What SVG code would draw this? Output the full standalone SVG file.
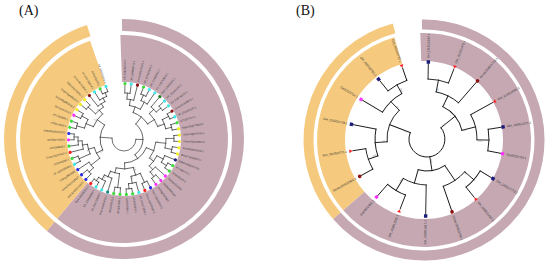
<svg xmlns="http://www.w3.org/2000/svg" width="550" height="266" viewBox="0 0 550 266">
<style>
.tr path,.tr circle{fill:none;stroke:#151515;stroke-width:0.6;stroke-linecap:square}
.trb path,.trb circle{fill:none;stroke:#151515;stroke-width:0.9;stroke-linecap:square}
text{font-family:"Liberation Sans",Arial,sans-serif;fill:#333}
.la{font-size:2.6px;dominant-baseline:central}
.lb{font-size:3.2px;dominant-baseline:central}
.e{text-anchor:end}
.bs{font-size:1.7px;fill:#777}
.bsb{font-size:2.4px;fill:#777}
.ttl{font-family:"Liberation Serif","Times New Roman",serif;font-size:14px;fill:#111}
.ring{fill:none}
.pu{stroke:#c5a8b2}.or{stroke:#f5ca7e}
.cg{fill:#3ddc3d}.cc{fill:#3ee8e8}.cdr{fill:#8b1010}.cdg{fill:#1a7d1a}.cy{fill:#f2ee22}
.cn{fill:#1c1c7a}.cm{fill:#ff33ff}.cb{fill:#2a2ae0}.cr{fill:#ff2020}.ct{fill:#158a8a}
</style>

<text class="ttl" x="19" y="15">(A)</text>
<text class="ttl" x="296" y="15">(B)</text>

<!-- Panel A rings -->
<g id="rings-A" transform="translate(124,139)">
<circle class="ring pu" r="80.5" stroke-width="47" pathLength="360" stroke-dasharray="222 360" transform="rotate(-92)"/>
<circle class="ring or" r="80.5" stroke-width="47" pathLength="360" stroke-dasharray="121 360" transform="rotate(130)"/>
<circle class="ring pu" r="114" stroke-width="12" pathLength="360" stroke-dasharray="221 360" transform="rotate(-91)"/>
<circle class="ring or" r="114" stroke-width="12" pathLength="360" stroke-dasharray="122 360" transform="rotate(130)"/>
</g>

<!-- Panel B rings -->
<g id="rings-B" transform="translate(424,140)">
<circle class="ring pu" r="93" stroke-width="28" pathLength="360" stroke-dasharray="231 360" transform="rotate(-92)"/>
<circle class="ring or" r="93" stroke-width="28" pathLength="360" stroke-dasharray="115 360" transform="rotate(139)"/>
<circle class="ring pu" r="115.5" stroke-width="10" pathLength="360" stroke-dasharray="230 360" transform="rotate(-91)"/>
<circle class="ring or" r="115.5" stroke-width="10" pathLength="360" stroke-dasharray="116 360" transform="rotate(139)"/>
</g>

<!-- Panel A connectors -->
<g id="connectors-A" class="tr" transform="translate(124,139)">
<path d="M0-46V-54" transform="rotate(1)"/>
<path d="M0-46V-54" transform="rotate(7.54)"/>
<path d="M0-40V-54" transform="rotate(14.08)"/>
<path d="M0-48V-54" transform="rotate(20.62)"/>
<path d="M0-48V-54" transform="rotate(27.16)"/>
<path d="M0-42V-54" transform="rotate(33.7)"/>
<path d="M0-42V-54" transform="rotate(40.24)"/>
<path d="M0-48V-54" transform="rotate(46.78)"/>
<path d="M0-48V-54" transform="rotate(53.32)"/>
<path d="M0-50V-54" transform="rotate(59.86)"/>
<path d="M0-50V-54" transform="rotate(66.4)"/>
<path d="M0-49V-54" transform="rotate(72.94)"/>
<path d="M0-49V-54" transform="rotate(79.48)"/>
<path d="M0-50V-54" transform="rotate(86.02)"/>
<path d="M0-50V-54" transform="rotate(92.56)"/>
<path d="M0-49V-54" transform="rotate(99.1)"/>
<path d="M0-49V-54" transform="rotate(105.64)"/>
<path d="M0-44V-54" transform="rotate(112.18)"/>
<path d="M0-50V-54" transform="rotate(118.72)"/>
<path d="M0-50V-54" transform="rotate(125.26)"/>
<path d="M0-42V-54" transform="rotate(131.8)"/>
<path d="M0-48V-54" transform="rotate(138.34)"/>
<path d="M0-48V-54" transform="rotate(144.88)"/>
<path d="M0-48V-54" transform="rotate(151.42)"/>
<path d="M0-48V-54" transform="rotate(157.96)"/>
<path d="M0-45V-54" transform="rotate(164.5)"/>
<path d="M0-50V-54" transform="rotate(171.04)"/>
<path d="M0-50V-54" transform="rotate(177.58)"/>
<path d="M0-49V-54" transform="rotate(184.12)"/>
<path d="M0-49V-54" transform="rotate(190.66)"/>
<path d="M0-41V-54" transform="rotate(197.2)"/>
<path d="M0-46V-54" transform="rotate(203.74)"/>
<path d="M0-50V-54" transform="rotate(210.28)"/>
<path d="M0-50V-54" transform="rotate(216.82)"/>
<path d="M0-48V-54" transform="rotate(223.36)"/>
<path d="M0-48V-54" transform="rotate(229.9)"/>
<path d="M0-42V-54" transform="rotate(236.44)"/>
<path d="M0-49V-54" transform="rotate(242.98)"/>
<path d="M0-49V-54" transform="rotate(249.52)"/>
<path d="M0-42V-54" transform="rotate(256.06)"/>
<path d="M0-46V-54" transform="rotate(262.6)"/>
<path d="M0-50V-54" transform="rotate(269.14)"/>
<path d="M0-50V-54" transform="rotate(275.68)"/>
<path d="M0-49V-54" transform="rotate(282.22)"/>
<path d="M0-49V-54" transform="rotate(288.76)"/>
<path d="M0-48V-54" transform="rotate(295.3)"/>
<path d="M0-48V-54" transform="rotate(301.84)"/>
<path d="M0-48V-54" transform="rotate(308.38)"/>
<path d="M0-48V-54" transform="rotate(314.92)"/>
<path d="M0-42V-54" transform="rotate(321.46)"/>
<path d="M0-46V-54" transform="rotate(328)"/>
<path d="M0-50V-54" transform="rotate(334.54)"/>
<path d="M0-50V-54" transform="rotate(341.08)"/>
<!-- internal radial lines -->
<path d="M0-40V-46" transform="rotate(4.27)"/>
<path d="M0-34V-40" transform="rotate(9.18)"/>
<path d="M0-42V-48" transform="rotate(23.89)"/>
<path d="M0-34V-42" transform="rotate(28.8)"/>
<path d="M0-28V-34" transform="rotate(18.99)"/>
<path d="M0-42V-48" transform="rotate(50.05)"/>
<path d="M0-36V-42" transform="rotate(45.15)"/>
<path d="M0-43V-50" transform="rotate(63.13)"/>
<path d="M0-43V-49" transform="rotate(76.21)"/>
<path d="M0-36V-43" transform="rotate(69.67)"/>
<path d="M0-28V-36" transform="rotate(57.41)"/>
<path d="M0-19V-28" transform="rotate(38.2)"/>
<path d="M0-42V-50" transform="rotate(89.29)"/>
<path d="M0-42V-49" transform="rotate(102.37)"/>
<path d="M0-32V-42" transform="rotate(95.83)"/>
<path d="M0-44V-50" transform="rotate(121.99)"/>
<path d="M0-37V-44" transform="rotate(117.09)"/>
<path d="M0-42V-48" transform="rotate(141.61)"/>
<path d="M0-37V-42" transform="rotate(136.71)"/>
<path d="M0-32V-37" transform="rotate(126.9)"/>
<path d="M0-24V-32" transform="rotate(111.37)"/>
<path d="M0-38V-48" transform="rotate(154.69)"/>
<path d="M0-45V-50" transform="rotate(174.31)"/>
<path d="M0-38V-45" transform="rotate(169.41)"/>
<path d="M0-30V-38" transform="rotate(162.05)"/>
<path d="M0-35V-49" transform="rotate(187.39)"/>
<path d="M0-46V-50" transform="rotate(213.55)"/>
<path d="M0-41V-46" transform="rotate(208.65)"/>
<path d="M0-35V-41" transform="rotate(202.93)"/>
<path d="M0-30V-35" transform="rotate(195.16)"/>
<path d="M0-24V-30" transform="rotate(178.61)"/>
<path d="M0-19V-24" transform="rotate(144.99)"/>
<path d="M0-12V-19" transform="rotate(91.6)"/>
<path d="M0-42V-48" transform="rotate(226.63)"/>
<path d="M0-31V-42" transform="rotate(231.54)"/>
<path d="M0-37V-49" transform="rotate(246.25)"/>
<path d="M0-46V-50" transform="rotate(272.41)"/>
<path d="M0-42V-46" transform="rotate(267.51)"/>
<path d="M0-37V-42" transform="rotate(261.79)"/>
<path d="M0-31V-37" transform="rotate(254.02)"/>
<path d="M0-24V-31" transform="rotate(242.78)"/>
<path d="M0-41V-49" transform="rotate(285.49)"/>
<path d="M0-41V-48" transform="rotate(298.57)"/>
<path d="M0-33V-41" transform="rotate(292.03)"/>
<path d="M0-38V-48" transform="rotate(311.65)"/>
<path d="M0-46V-50" transform="rotate(337.81)"/>
<path d="M0-42V-46" transform="rotate(332.91)"/>
<path d="M0-38V-42" transform="rotate(327.19)"/>
<path d="M0-33V-38" transform="rotate(319.42)"/>
<path d="M0-24V-33" transform="rotate(305.73)"/>
<path d="M0-12V-24" transform="rotate(274.26)"/>
<!-- arcs -->
<circle r="46" pathLength="360" stroke-dasharray="6.54 360" transform="rotate(-89)"/>
<circle r="40" pathLength="360" stroke-dasharray="9.81 360" transform="rotate(-85.73)"/>
<circle r="48" pathLength="360" stroke-dasharray="6.54 360" transform="rotate(-69.38)"/>
<circle r="42" pathLength="360" stroke-dasharray="9.81 360" transform="rotate(-66.11)"/>
<circle r="34" pathLength="360" stroke-dasharray="19.62 360" transform="rotate(-80.82)"/>
<circle r="48" pathLength="360" stroke-dasharray="6.54 360" transform="rotate(-43.22)"/>
<circle r="42" pathLength="360" stroke-dasharray="9.81 360" transform="rotate(-49.76)"/>
<circle r="50" pathLength="360" stroke-dasharray="6.54 360" transform="rotate(-30.14)"/>
<circle r="49" pathLength="360" stroke-dasharray="6.54 360" transform="rotate(-17.06)"/>
<circle r="43" pathLength="360" stroke-dasharray="13.08 360" transform="rotate(-26.87)"/>
<circle r="36" pathLength="360" stroke-dasharray="24.52 360" transform="rotate(-44.85)"/>
<circle r="28" pathLength="360" stroke-dasharray="38.42 360" transform="rotate(-71.01)"/>
<circle r="50" pathLength="360" stroke-dasharray="6.54 360" transform="rotate(-3.98)"/>
<circle r="49" pathLength="360" stroke-dasharray="6.54 360" transform="rotate(9.1)"/>
<circle r="42" pathLength="360" stroke-dasharray="13.08 360" transform="rotate(-0.71)"/>
<circle r="50" pathLength="360" stroke-dasharray="6.54 360" transform="rotate(28.72)"/>
<circle r="44" pathLength="360" stroke-dasharray="9.81 360" transform="rotate(22.18)"/>
<circle r="48" pathLength="360" stroke-dasharray="6.54 360" transform="rotate(48.34)"/>
<circle r="42" pathLength="360" stroke-dasharray="9.81 360" transform="rotate(41.8)"/>
<circle r="37" pathLength="360" stroke-dasharray="19.62 360" transform="rotate(27.09)"/>
<circle r="32" pathLength="360" stroke-dasharray="31.07 360" transform="rotate(5.83)"/>
<circle r="48" pathLength="360" stroke-dasharray="6.54 360" transform="rotate(61.42)"/>
<circle r="50" pathLength="360" stroke-dasharray="6.54 360" transform="rotate(81.04)"/>
<circle r="45" pathLength="360" stroke-dasharray="9.81 360" transform="rotate(74.5)"/>
<circle r="38" pathLength="360" stroke-dasharray="14.72 360" transform="rotate(64.69)"/>
<circle r="49" pathLength="360" stroke-dasharray="6.54 360" transform="rotate(94.12)"/>
<circle r="50" pathLength="360" stroke-dasharray="6.54 360" transform="rotate(120.28)"/>
<circle r="46" pathLength="360" stroke-dasharray="9.81 360" transform="rotate(113.74)"/>
<circle r="41" pathLength="360" stroke-dasharray="11.45 360" transform="rotate(107.2)"/>
<circle r="35" pathLength="360" stroke-dasharray="15.54 360" transform="rotate(97.39)"/>
<circle r="30" pathLength="360" stroke-dasharray="33.11 360" transform="rotate(72.05)"/>
<circle r="24" pathLength="360" stroke-dasharray="67.24 360" transform="rotate(21.37)"/>
<circle r="19" pathLength="360" stroke-dasharray="106.79 360" transform="rotate(-51.8)"/>
<circle r="48" pathLength="360" stroke-dasharray="6.54 360" transform="rotate(133.36)"/>
<circle r="42" pathLength="360" stroke-dasharray="9.81 360" transform="rotate(136.63)"/>
<circle r="49" pathLength="360" stroke-dasharray="6.54 360" transform="rotate(152.98)"/>
<circle r="50" pathLength="360" stroke-dasharray="6.54 360" transform="rotate(179.14)"/>
<circle r="46" pathLength="360" stroke-dasharray="9.81 360" transform="rotate(172.6)"/>
<circle r="42" pathLength="360" stroke-dasharray="11.45 360" transform="rotate(166.06)"/>
<circle r="37" pathLength="360" stroke-dasharray="15.54 360" transform="rotate(156.25)"/>
<circle r="31" pathLength="360" stroke-dasharray="22.48 360" transform="rotate(141.54)"/>
<circle r="49" pathLength="360" stroke-dasharray="6.54 360" transform="rotate(192.22)"/>
<circle r="48" pathLength="360" stroke-dasharray="6.54 360" transform="rotate(205.3)"/>
<circle r="41" pathLength="360" stroke-dasharray="13.08 360" transform="rotate(195.49)"/>
<circle r="48" pathLength="360" stroke-dasharray="6.54 360" transform="rotate(218.38)"/>
<circle r="50" pathLength="360" stroke-dasharray="6.54 360" transform="rotate(244.54)"/>
<circle r="46" pathLength="360" stroke-dasharray="9.81 360" transform="rotate(238)"/>
<circle r="42" pathLength="360" stroke-dasharray="11.45 360" transform="rotate(231.46)"/>
<circle r="38" pathLength="360" stroke-dasharray="15.54 360" transform="rotate(221.65)"/>
<circle r="33" pathLength="360" stroke-dasharray="27.39 360" transform="rotate(202.03)"/>
<circle r="24" pathLength="360" stroke-dasharray="62.95 360" transform="rotate(152.78)"/>
<circle r="12" pathLength="360" stroke-dasharray="182.66 360" transform="rotate(1.6)"/>
</g>

<!-- Panel A support values -->
<g id="support-A" transform="translate(124,139)">
<text class="bs" transform="rotate(-84.7)" x="40.5" y="-0.6">100</text>
<text class="bs" transform="rotate(-60.2)" x="42.5" y="-0.6">98</text>
<text class="bs" transform="rotate(-44.8)" x="36.5" y="-0.6">87</text>
<text class="bs" transform="rotate(-20.3)" x="36.5" y="-0.6">100</text>
<text class="bs" transform="rotate(5.8)" x="32.5" y="-0.6">95</text>
<text class="bs" transform="rotate(36.9)" x="32.5" y="-0.6">100</text>
<text class="bs" transform="rotate(51.6)" x="42.5" y="-0.6">76</text>
<text class="bs" transform="rotate(72.1)" x="30.5" y="-0.6">100</text>
<text class="bs" transform="rotate(79.4)" x="38.5" y="-0.6">99</text>
<text class="bs" transform="rotate(112.9)" x="35.5" y="-0.6">84</text>
<text class="bs" transform="rotate(118.6)" x="41.5" y="-0.6">100</text>
<text class="bs" transform="rotate(152.8)" x="24.5" y="-0.6">100</text>
<text class="bs" transform="rotate(164.0)" x="37.5" y="-0.6">91</text>
<text class="bs" transform="rotate(215.7)" x="33.5" y="-0.6">100</text>
<text class="bs" transform="rotate(229.4)" x="38.5" y="-0.6">88</text>
</g>

<!-- Panel A leaves -->
<g id="leaves-A" transform="translate(124,139)">
<g id="a0" transform="rotate(1)"><circle class="cg" cy="-55.5" r="1.6"/><text class="la" transform="rotate(-90)" x="59">XP_016703245.1</text></g>
<g id="a1" transform="rotate(7.54)"><circle class="cc" cy="-55.5" r="1.6"/><text class="la" transform="rotate(-90)" x="59">XP_016666712.1</text></g>
<g id="a2" transform="rotate(14.08)"><circle class="cdr" cy="-55.5" r="1.6"/><text class="la" transform="rotate(-90)" x="59">Gorai.001G0123.1</text></g>
<g id="a3" transform="rotate(20.62)"><circle class="cg" cy="-55.5" r="1.6"/><text class="la" transform="rotate(-90)" x="59">XP_017620254.1</text></g>
<g id="a4" transform="rotate(27.16)"><circle class="cc" cy="-55.5" r="1.6"/><text class="la" transform="rotate(-90)" x="59">XP_016687421.1</text></g>
<g id="a5" transform="rotate(33.7)"><circle class="cc" cy="-55.5" r="1.6"/><text class="la" transform="rotate(-90)" x="59">XP_016705618.1</text></g>
<g id="a6" transform="rotate(40.24)"><circle class="cdg" cy="-55.5" r="1.6"/><text class="la" transform="rotate(-90)" x="59">Potri.008G0934.1</text></g>
<g id="a7" transform="rotate(46.78)"><circle class="cc" cy="-55.5" r="1.6"/><text class="la" transform="rotate(-90)" x="59">XP_012461095.1</text></g>
<g id="a8" transform="rotate(53.32)"><circle class="cc" cy="-55.5" r="1.6"/><text class="la" transform="rotate(-90)" x="59">XP_016741132.1</text></g>
<g id="a9" transform="rotate(59.86)"><circle class="cdr" cy="-55.5" r="1.6"/><text class="la" transform="rotate(-90)" x="59">Gorai.013G0875.1</text></g>
<g id="a10" transform="rotate(66.4)"><circle class="cc" cy="-55.5" r="1.6"/><text class="la" transform="rotate(-90)" x="59">XP_012491247.1</text></g>
<g id="a11" transform="rotate(72.94)"><circle class="cg" cy="-55.5" r="1.6"/><text class="la" transform="rotate(-90)" x="59">AT1G27370.1</text></g>
<g id="a12" transform="rotate(79.48)"><circle class="cy" cy="-55.5" r="1.6"/><text class="la" transform="rotate(-90)" x="59">Solyc02g077920.2</text></g>
<g id="a13" transform="rotate(86.02)"><circle class="cy" cy="-55.5" r="1.6"/><text class="la" transform="rotate(-90)" x="59">Solyc10g078700.1</text></g>
<g id="a14" transform="rotate(92.56)"><circle class="cy" cy="-55.5" r="1.6"/><text class="la" transform="rotate(-90)" x="59">Solyc05g015840.2</text></g>
<g id="a15" transform="rotate(99.1)"><circle class="cy" cy="-55.5" r="1.6"/><text class="la" transform="rotate(-90)" x="59">Solyc05g012040.2</text></g>
<g id="a16" transform="rotate(105.64)"><circle class="cy" cy="-55.5" r="1.6"/><text class="la" transform="rotate(-90)" x="59">Solyc12g038520.1</text></g>
<g id="a17" transform="rotate(112.18)"><circle class="cn" cy="-55.5" r="1.6"/><text class="la" transform="rotate(-90)" x="59">GRMZM2G061734</text></g>
<g id="a18" transform="rotate(118.72)"><circle class="cg" cy="-55.5" r="1.6"/><text class="la" transform="rotate(-90)" x="59">AT1G69170.1</text></g>
<g id="a19" transform="rotate(125.26)"><circle class="cg" cy="-55.5" r="1.6"/><text class="la" transform="rotate(-90)" x="59">AT5G50570.2</text></g>
<g id="a20" transform="rotate(131.8)"><circle class="cm" cy="-55.5" r="1.6"/><text class="la" transform="rotate(-90)" x="59">Os02g0139400</text></g>
<g id="a21" transform="rotate(138.34)"><circle class="cm" cy="-55.5" r="1.6"/><text class="la" transform="rotate(-90)" x="59">Os06g0659100</text></g>
<g id="a22" transform="rotate(144.88)"><circle class="cm" cy="-55.5" r="1.6"/><text class="la" transform="rotate(-90)" x="59">Os08g0509600</text></g>
<g id="a23" transform="rotate(151.42)"><circle class="cb" cy="-55.5" r="1.6"/><text class="la" transform="rotate(-90)" x="59">Potri.015G0640.1</text></g>
<g id="a24" transform="rotate(157.96)"><circle class="cr" cy="-55.5" r="1.6"/><text class="la" transform="rotate(-90)" x="59">Gorai.010G2083.1</text></g>
<g id="a25" transform="rotate(164.5)"><circle class="cc" cy="-55.5" r="1.6"/><text class="la" transform="rotate(-90)" x="59">XP_016672359.1</text></g>
<g id="a26" transform="rotate(171.04)"><circle class="cg" cy="-55.5" r="1.6"/><text class="la" transform="rotate(-90)" x="59">AT2G33810.1</text></g>
<g id="a27" transform="rotate(177.58)"><circle class="cg" cy="-55.5" r="1.6"/><text class="la" transform="rotate(-90)" x="59">AT3G57920.1</text></g>
<g id="a28" transform="rotate(184.12)"><circle class="cg" cy="-55.5" r="1.6"/><text class="la e" transform="rotate(90)" x="-59">AT1G53160.1</text></g>
<g id="a29" transform="rotate(190.66)"><circle class="cg" cy="-55.5" r="1.6"/><text class="la e" transform="rotate(90)" x="-59">AT5G43270.2</text></g>
<g id="a30" transform="rotate(197.2)"><circle class="ct" cy="-55.5" r="1.6"/><text class="la e" transform="rotate(90)" x="-59">Potri.002G0020.1</text></g>
<g id="a31" transform="rotate(203.74)"><circle class="cc" cy="-55.5" r="1.6"/><text class="la e" transform="rotate(90)" x="-59">XP_016713958.1</text></g>
<g id="a32" transform="rotate(210.28)"><circle class="cc" cy="-55.5" r="1.6"/><text class="la e" transform="rotate(90)" x="-59">XP_016699864.1</text></g>
<g id="a33" transform="rotate(216.82)"><circle class="cr" cy="-55.5" r="1.6"/><text class="la e" transform="rotate(90)" x="-59">Gorai.005G0914.1</text></g>
<g id="a34" transform="rotate(223.36)"><circle class="cb" cy="-55.5" r="1.6"/><text class="la e" transform="rotate(90)" x="-59">GRMZM2G156621</text></g>
<g id="a35" transform="rotate(229.9)"><circle class="cb" cy="-55.5" r="1.6"/><text class="la e" transform="rotate(90)" x="-59">GRMZM2G126827</text></g>
<g id="a36" transform="rotate(236.44)"><circle class="cb" cy="-55.5" r="1.6"/><text class="la e" transform="rotate(90)" x="-59">Os01g0922600</text></g>
<g id="a37" transform="rotate(242.98)"><circle class="cc" cy="-55.5" r="1.6"/><text class="la e" transform="rotate(90)" x="-59">XP_016738390.1</text></g>
<g id="a38" transform="rotate(249.52)"><circle class="cg" cy="-55.5" r="1.6"/><text class="la e" transform="rotate(90)" x="-59">AT2G42200.1</text></g>
<g id="a39" transform="rotate(256.06)"><circle class="cr" cy="-55.5" r="1.6"/><text class="la e" transform="rotate(90)" x="-59">Gorai.011G0413.1</text></g>
<g id="a40" transform="rotate(262.6)"><circle class="cg" cy="-55.5" r="1.6"/><text class="la e" transform="rotate(90)" x="-59">AT3G60030.1</text></g>
<g id="a41" transform="rotate(269.14)"><circle class="cm" cy="-55.5" r="1.6"/><text class="la e" transform="rotate(90)" x="-59">Os05g0408200</text></g>
<g id="a42" transform="rotate(275.68)"><circle class="cb" cy="-55.5" r="1.6"/><text class="la e" transform="rotate(90)" x="-59">GRMZM2G097275</text></g>
<g id="a43" transform="rotate(282.22)"><circle class="cg" cy="-55.5" r="1.6"/><text class="la e" transform="rotate(90)" x="-59">AT5G18830.1</text></g>
<g id="a44" transform="rotate(288.76)"><circle class="cg" cy="-55.5" r="1.6"/><text class="la e" transform="rotate(90)" x="-59">AT1G02065.1</text></g>
<g id="a45" transform="rotate(295.3)"><circle class="cm" cy="-55.5" r="1.6"/><text class="la e" transform="rotate(90)" x="-59">Os07g0505200</text></g>
<g id="a46" transform="rotate(301.84)"><circle class="cy" cy="-55.5" r="1.6"/><text class="la e" transform="rotate(90)" x="-59">Solyc08g061910.2</text></g>
<g id="a47" transform="rotate(308.38)"><circle class="cy" cy="-55.5" r="1.6"/><text class="la e" transform="rotate(90)" x="-59">Solyc01g068100.2</text></g>
<g id="a48" transform="rotate(314.92)"><circle class="cy" cy="-55.5" r="1.6"/><text class="la e" transform="rotate(90)" x="-59">Solyc10g009080.2</text></g>
<g id="a49" transform="rotate(321.46)"><circle class="cdr" cy="-55.5" r="1.6"/><text class="la e" transform="rotate(90)" x="-59">Gorai.007G2031.1</text></g>
<g id="a50" transform="rotate(328)"><circle class="cc" cy="-55.5" r="1.6"/><text class="la e" transform="rotate(90)" x="-59">XP_016730814.1</text></g>
<g id="a51" transform="rotate(334.54)"><circle class="cg" cy="-55.5" r="1.6"/><text class="la e" transform="rotate(90)" x="-59">AT3G15270.1</text></g>
<g id="a52" transform="rotate(341.08)"><circle class="cc" cy="-55.5" r="1.6"/><text class="la e" transform="rotate(90)" x="-59">XP_016742021.1</text></g>
</g>

<!-- Panel B connectors -->
<g id="connectors-B" class="trb" transform="translate(427,139)">
<path d="M0-60V-75" transform="rotate(1)"/>
<path d="M0-60V-75" transform="rotate(21)"/>
<path d="M0-48V-75" transform="rotate(41)"/>
<path d="M0-50V-75" transform="rotate(61)"/>
<path d="M0-62V-75" transform="rotate(81)"/>
<path d="M0-62V-75" transform="rotate(101)"/>
<path d="M0-62V-75" transform="rotate(121)"/>
<path d="M0-62V-75" transform="rotate(141)"/>
<path d="M0-50V-75" transform="rotate(161)"/>
<path d="M0-46V-75" transform="rotate(181)"/>
<path d="M0-60V-75" transform="rotate(201)"/>
<path d="M0-60V-75" transform="rotate(221)"/>
<path d="M0-62V-75" transform="rotate(241)"/>
<path d="M0-62V-75" transform="rotate(261)"/>
<path d="M0-52V-75" transform="rotate(281)"/>
<path d="M0-52V-75" transform="rotate(301)"/>
<path d="M0-62V-75" transform="rotate(321)"/>
<path d="M0-62V-75" transform="rotate(341)"/>
<path d="M0-48V-60" transform="rotate(11)"/>
<path d="M0-36V-48" transform="rotate(26)"/>
<path d="M0-50V-62" transform="rotate(91)"/>
<path d="M0-36V-50" transform="rotate(76)"/>
<path d="M0-18V-36" transform="rotate(51)"/>
<path d="M0-50V-62" transform="rotate(131)"/>
<path d="M0-32V-50" transform="rotate(146)"/>
<path d="M0-46V-60" transform="rotate(211)"/>
<path d="M0-32V-46" transform="rotate(196)"/>
<path d="M0-18V-32" transform="rotate(171)"/>
<path d="M0-52V-62" transform="rotate(251)"/>
<path d="M0-40V-52" transform="rotate(266)"/>
<path d="M0-52V-62" transform="rotate(331)"/>
<path d="M0-40V-52" transform="rotate(316)"/>
<path d="M0-18V-40" transform="rotate(291)"/>
<circle r="60" pathLength="360" stroke-dasharray="20 360" transform="rotate(-89)"/>
<circle r="48" pathLength="360" stroke-dasharray="30 360" transform="rotate(-79)"/>
<circle r="62" pathLength="360" stroke-dasharray="20 360" transform="rotate(-9)"/>
<circle r="50" pathLength="360" stroke-dasharray="30 360" transform="rotate(-29)"/>
<circle r="36" pathLength="360" stroke-dasharray="50 360" transform="rotate(-64)"/>
<circle r="62" pathLength="360" stroke-dasharray="20 360" transform="rotate(31)"/>
<circle r="50" pathLength="360" stroke-dasharray="30 360" transform="rotate(41)"/>
<circle r="60" pathLength="360" stroke-dasharray="20 360" transform="rotate(111)"/>
<circle r="46" pathLength="360" stroke-dasharray="30 360" transform="rotate(91)"/>
<circle r="32" pathLength="360" stroke-dasharray="50 360" transform="rotate(56)"/>
<circle r="62" pathLength="360" stroke-dasharray="20 360" transform="rotate(151)"/>
<circle r="52" pathLength="360" stroke-dasharray="30 360" transform="rotate(161)"/>
<circle r="62" pathLength="360" stroke-dasharray="20 360" transform="rotate(231)"/>
<circle r="52" pathLength="360" stroke-dasharray="30 360" transform="rotate(211)"/>
<circle r="40" pathLength="360" stroke-dasharray="50 360" transform="rotate(176)"/>
<circle r="18" pathLength="360" stroke-dasharray="240 360" transform="rotate(-39)"/>
</g>

<!-- Panel B support values -->
<g id="support-B" transform="translate(427,139)">
<text class="bsb" transform="rotate(-76)" x="49" y="-0.8">99</text>
<text class="bsb" transform="rotate(-61)" x="37" y="-0.8">78</text>
<text class="bsb" transform="rotate(4)" x="51" y="-0.8">100</text>
<text class="bsb" transform="rotate(-11)" x="37" y="-0.8">64</text>
<text class="bsb" transform="rotate(-36)" x="20" y="-0.8">100</text>
<text class="bsb" transform="rotate(44)" x="51" y="-0.8">97</text>
<text class="bsb" transform="rotate(59)" x="34" y="-0.8">85</text>
<text class="bsb" transform="rotate(124)" x="47" y="-0.8">100</text>
<text class="bsb" transform="rotate(109)" x="34" y="-0.8">71</text>
<text class="bsb" transform="rotate(84)" x="20" y="-0.8">100</text>
<text class="bsb" transform="rotate(164)" x="53" y="-0.8">100</text>
<text class="bsb" transform="rotate(179)" x="42" y="-0.8">88</text>
<text class="bsb" transform="rotate(244)" x="53" y="-0.8">100</text>
<text class="bsb" transform="rotate(229)" x="42" y="-0.8">92</text>
<text class="bsb" transform="rotate(204)" x="21" y="-0.8">100</text>
</g>

<!-- Panel B leaves -->
<g id="leaves-B" transform="translate(427,139)">
<g id="b1" transform="rotate(1)"><rect class="cn" x="-1.7" y="-78.7" width="3.4" height="3.4"/><text class="lb" transform="rotate(-90)" x="81">GH_D12G1597.1</text></g>
<g id="b2" transform="rotate(21)"><path class="cr" d="M-1.9-78.6H1.9L0-75.4Z"/><text class="lb" transform="rotate(-90)" x="81">GH_A12G1475.1</text></g>
<g id="b3" transform="rotate(41)"><circle class="cdr" cy="-77" r="1.8"/><text class="lb" transform="rotate(-90)" x="81">Gorai.008G1716.1</text></g>
<g id="b4" transform="rotate(61)"><path class="cr" d="M-1.9-78.6H1.9L0-75.4Z"/><text class="lb" transform="rotate(-90)" x="81">GH_A13G2040.1</text></g>
<g id="b5" transform="rotate(81)"><rect class="cn" x="-1.7" y="-78.7" width="3.4" height="3.4"/><text class="lb" transform="rotate(-90)" x="81">GH_A05G2271.1</text></g>
<g id="b6" transform="rotate(101)"><rect class="cm" x="-1.6" y="-78.6" width="3.2" height="3.2"/><text class="lb" transform="rotate(-90)" x="81">Ga05G2754.1</text></g>
<g id="b7" transform="rotate(121)"><rect class="cn" x="-1.7" y="-78.7" width="3.4" height="3.4"/><text class="lb" transform="rotate(-90)" x="81">GH_D05G2273.1</text></g>
<g id="b8" transform="rotate(141)"><path class="cr" d="M-1.9-78.6H1.9L0-75.4Z"/><text class="lb" transform="rotate(-90)" x="81">GH_D08G1432.1</text></g>
<g id="b9" transform="rotate(161)"><circle class="cdr" cy="-77" r="1.8"/><text class="lb" transform="rotate(-90)" x="81">Gorai.009G2756.1</text></g>
<g id="b10" transform="rotate(181)"><rect class="cn" x="-1.7" y="-78.7" width="3.4" height="3.4"/><text class="lb e" transform="rotate(90)" x="-81">GH_A08G1417.1</text></g>
<g id="b11" transform="rotate(201)"><path class="cr" d="M-1.9-78.6H1.9L0-75.4Z"/><text class="lb e" transform="rotate(90)" x="-81">GH_A08G1592.1</text></g>
<g id="b12" transform="rotate(221)"><rect class="cm" x="-1.6" y="-78.6" width="3.2" height="3.2"/><text class="lb e" transform="rotate(90)" x="-81">Ga08G1591.1</text></g>
<g id="b13" transform="rotate(241)"><circle class="cdr" cy="-77" r="1.8"/><text class="lb e" transform="rotate(90)" x="-81">Gorai.004G1901.1</text></g>
<g id="b14" transform="rotate(261)"><path class="cr" d="M-1.9-78.6H1.9L0-75.4Z"/><text class="lb e" transform="rotate(90)" x="-81">GH_D02G0771.1</text></g>
<g id="b15" transform="rotate(281)"><rect class="cn" x="-1.7" y="-78.7" width="3.4" height="3.4"/><text class="lb e" transform="rotate(90)" x="-81">GH_D02G0709.1</text></g>
<g id="b16" transform="rotate(301)"><rect class="cm" x="-1.6" y="-78.6" width="3.2" height="3.2"/><text class="lb e" transform="rotate(90)" x="-81">Ga02G0754.1</text></g>
<g id="b17" transform="rotate(321)"><rect class="cn" x="-1.7" y="-78.7" width="3.4" height="3.4"/><text class="lb e" transform="rotate(90)" x="-81">GH_A02G0751.1</text></g>
<g id="b18" transform="rotate(341)"><path class="cr" d="M-1.9-78.6H1.9L0-75.4Z"/><text class="lb e" transform="rotate(90)" x="-81">GH_A02G0722.1</text></g>
</g>
</svg>
